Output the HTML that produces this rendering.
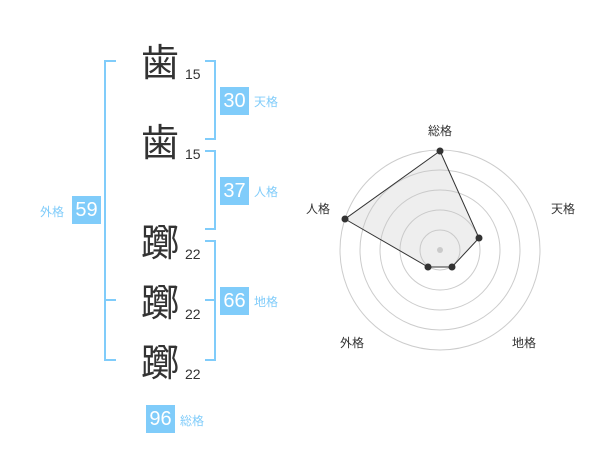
<!DOCTYPE html><html><head><meta charset="utf-8"><style>
body{margin:0;width:600px;height:470px;background:#fff;font-family:"Liberation Sans","Noto Sans CJK JP",sans-serif;position:relative;overflow:hidden}
.a{position:absolute}
.k{font-size:38px;color:#333;line-height:40px;font-family:"Noto Sans CJK JP",sans-serif}
.n{font-size:14px;color:#333}
.b{background:#80ccfa;color:#fff;font-size:20px;width:29px;height:28px;line-height:28px;text-align:center}
.l{font-size:12px;color:#80ccfa;font-family:"Noto Sans CJK JP",sans-serif}
.line{background:#80ccfa}
</style></head><body>
<div class="a k" style="left:141px;top:40px">歯</div><div class="a n" style="left:185px;top:66px">15</div>
<div class="a k" style="left:141px;top:120px">歯</div><div class="a n" style="left:185px;top:146px">15</div>
<div class="a k" style="left:141px;top:220px">躑</div><div class="a n" style="left:185px;top:246px">22</div>
<div class="a k" style="left:141px;top:280px">躑</div><div class="a n" style="left:185px;top:306px">22</div>
<div class="a k" style="left:141px;top:340px">躑</div><div class="a n" style="left:185px;top:366px">22</div>
<!-- left bracket -->
<div class="a line" style="left:104px;top:60px;width:2px;height:301px"></div>
<div class="a line" style="left:104px;top:60px;width:12px;height:2px"></div>
<div class="a line" style="left:104px;top:299px;width:12px;height:2px"></div>
<div class="a line" style="left:104px;top:359px;width:12px;height:2px"></div>
<!-- right brackets -->
<div class="a line" style="left:214px;top:60px;width:2px;height:80px"></div>
<div class="a line" style="left:205px;top:60px;width:11px;height:2px"></div>
<div class="a line" style="left:205px;top:138px;width:11px;height:2px"></div>
<div class="a line" style="left:214px;top:150px;width:2px;height:80px"></div>
<div class="a line" style="left:205px;top:150px;width:11px;height:2px"></div>
<div class="a line" style="left:205px;top:228px;width:11px;height:2px"></div>
<div class="a line" style="left:214px;top:240px;width:2px;height:121px"></div>
<div class="a line" style="left:205px;top:240px;width:11px;height:2px"></div>
<div class="a line" style="left:205px;top:299px;width:11px;height:2px"></div>
<div class="a line" style="left:205px;top:359px;width:11px;height:2px"></div>
<div class="a b" style="left:220px;top:87px">30</div><div class="a l" style="left:254px;top:93px">天格</div>
<div class="a b" style="left:220px;top:177px">37</div><div class="a l" style="left:254px;top:183px">人格</div>
<div class="a b" style="left:220px;top:287px">66</div><div class="a l" style="left:254px;top:293px">地格</div>
<div class="a b" style="left:72px;top:196px">59</div><div class="a l" style="left:40px;top:203px">外格</div>
<div class="a b" style="left:146px;top:405px">96</div><div class="a l" style="left:180px;top:412px">総格</div>
<svg class="a" style="left:0;top:0" width="600" height="470">
<g fill="none" stroke="#ccc" stroke-width="1">
<circle cx="440" cy="250" r="100"/><circle cx="440" cy="250" r="80"/><circle cx="440" cy="250" r="60"/><circle cx="440" cy="250" r="40"/><circle cx="440" cy="250" r="20"/></g>
<circle cx="440" cy="250" r="3" fill="#ccc"/>
<polygon points="440,151 479,238 452,267 428,267 345,219" fill="rgba(200,200,200,0.3)" stroke="#333" stroke-width="1"/>
<g fill="#333"><circle cx="440" cy="151" r="3.5"/><circle cx="479" cy="238" r="3.5"/><circle cx="452" cy="267" r="3.5"/><circle cx="428" cy="267" r="3.5"/><circle cx="345" cy="219" r="3.5"/></g>
<g font-size="12" fill="#333" font-family="Noto Sans CJK JP,sans-serif" text-anchor="middle">
<text x="440" y="135">総格</text><text x="563" y="213">天格</text><text x="318" y="213">人格</text><text x="352" y="347">外格</text><text x="524" y="347">地格</text></g>
</svg>
</body></html>
